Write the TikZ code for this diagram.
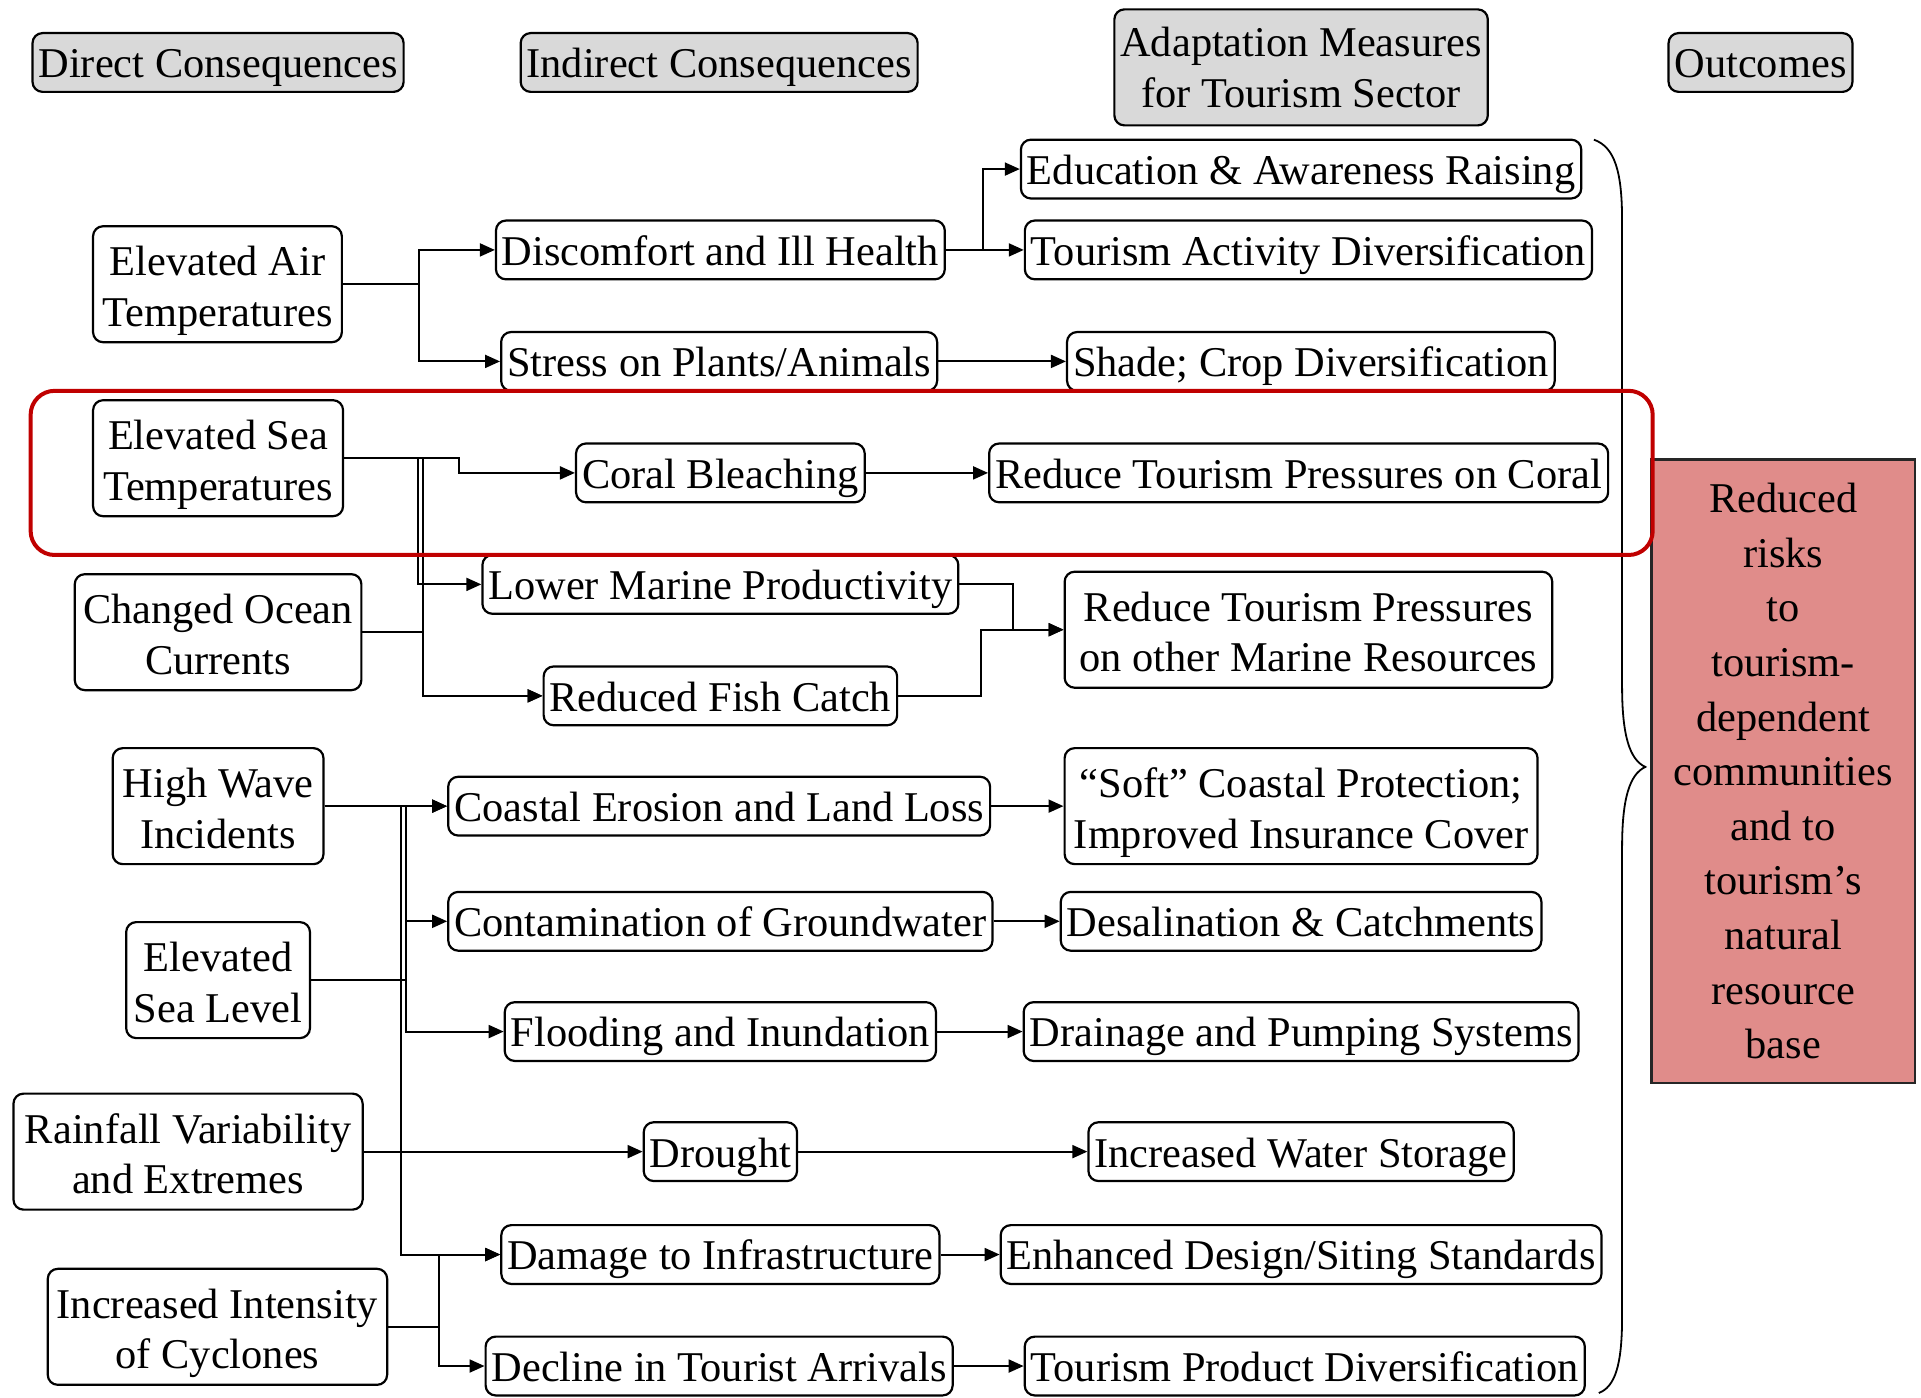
\documentclass[tikz,border=0pt]{standalone}
\usepackage{fontspec}
\setmainfont{Liberation Serif}
\usetikzlibrary{arrows.meta}
\definecolor{hdrgray}{HTML}{D9D9D9}
\definecolor{outc}{HTML}{E08C8A}
\definecolor{hired}{HTML}{C00000}
\begin{document}
\begin{tikzpicture}[x=0.6126pt,y=-0.6126pt,
  box/.style={draw=black, line width=1.1pt, rounded corners=5pt, inner xsep=3pt, inner ysep=0pt,
    text height=22.4pt, text depth=7pt, align=center, font=\fontsize{21.2}{25.3}\selectfont},
  tall/.style={box, text height=50pt, text depth=8pt},
  hdr/.style={box, fill=hdrgray},
  arr/.style={line width=1pt, -{Triangle[length=7.5pt,width=6.5pt]}},
  ln/.style={line width=1pt}]
\useasboundingbox (0,0) rectangle (1568,1141);

% headers
\node[hdr] (h1) at (178,51) {Direct Consequences};
\node[hdr] (h2) at (587,51) {Indirect Consequences};
\node[hdr, text height=49pt, text depth=9pt] (h3) at (1062,55) {Adaptation Measures\\for Tourism Sector};
\node[hdr] (h4) at (1437,51) {Outcomes};

% column 1
\node[tall, minimum width=124.4pt] (air) at (177.5,232) {Elevated Air\\Temperatures};
\node[tall, minimum width=125pt] (sst) at (178,374) {Elevated Sea\\Temperatures};
\node[tall, minimum width=143.3pt] (ocean) at (178,516) {Changed Ocean\\Currents};
\node[tall, minimum width=105.4pt] (wave) at (178,658) {High Wave\\Incidents};
\node[tall, minimum width=91.9pt] (slr) at (178,800) {Elevated\\Sea Level};
\node[tall, minimum width=174.6pt] (rain) at (153.5,940) {Rainfall Variability\\and Extremes};
\node[tall, minimum width=169.7pt] (cyc) at (177.5,1083) {Increased Intensity\\of Cyclones};

% column 2
\node[box] (disc) at (588,204) {Discomfort and Ill Health};
\node[box] (stress) at (587,295) {Stress on Plants/Animals};
\node[box] (coral) at (588,386) {Coral Bleaching};
\node[box] (lmp) at (588,477) {Lower Marine Productivity};
\node[box] (fish) at (588,568) {Reduced Fish Catch};
\node[box] (coast) at (587,658) {Coastal Erosion and Land Loss};
\node[box] (contam) at (588,752) {Contamination of Groundwater};
\node[box] (flood) at (588,842) {Flooding and Inundation};
\node[box] (drought) at (588,940) {Drought};
\node[box] (damage) at (588,1024) {Damage to Infrastructure};
\node[box] (decline) at (587,1115) {Decline in Tourist Arrivals};

% column 3
\node[box] (edu) at (1062,138) {Education \& Awareness Raising};
\node[box] (tad) at (1068,204) {Tourism Activity Diversification};
\node[box] (shade) at (1070,295) {Shade; Crop Diversification};
\node[box] (rcoral) at (1060,386) {Reduce Tourism Pressures on Coral};
\node[tall, minimum width=243.8pt] (rmarine) at (1068,514) {Reduce Tourism Pressures\\on other Marine Resources};
\node[tall, minimum width=236.5pt] (soft) at (1062,658) {“Soft” Coastal Protection;\\Improved Insurance Cover};
\node[box] (desal) at (1062,752) {Desalination \& Catchments};
\node[box] (drain) at (1062,842) {Drainage and Pumping Systems};
\node[box] (water) at (1062,940) {Increased Water Storage};
\node[box] (design) at (1062,1024) {Enhanced Design/Siting Standards};
\node[box] (tpd) at (1065,1115) {Tourism Product Diversification};

% outcome
\node[draw=black!85, line width=1.1pt, fill=outc, minimum width=131.7pt, minimum height=311.8pt,
  inner sep=0pt, align=center, font=\fontsize{21.2}{27.3}\selectfont] (out) at (1455.5,629.5)
  {Reduced\\risks\\to\\tourism-\\dependent\\communities\\and to\\tourism’s\\natural\\resource\\base};

% junction coordinates
\coordinate (jA) at (342,0);
\coordinate (jB) at (802,0);
\coordinate (jC) at (375,0);
\coordinate (jD) at (341,0);
\coordinate (jE) at (345,0);
\coordinate (jF) at (827,0);
\coordinate (jG) at (801,0);
\coordinate (jH) at (331,0);
\coordinate (jI) at (327,0);
\coordinate (jK) at (358,0);

% connectors
\draw[arr] (air.east) -- (air.east -| jA) |- (disc.west);
\draw[arr] (air.east) -- (air.east -| jA) |- (stress.west);
\draw[arr] (disc.east) -- (disc.east -| jB) |- (edu.west);
\draw[arr] (disc.east) -- (tad.west);
\draw[arr] (stress.east) -- (shade.west);
\draw[arr] (sst.east) -- (sst.east -| jC) |- (coral.west);
\draw[arr] (sst.east) -- (sst.east -| jD) |- (lmp.west);
\draw[arr] (sst.east) -- (sst.east -| jE) |- (fish.west);
\draw[arr] (ocean.east) -- (ocean.east -| jE) |- (fish.west);
\draw[arr] (coral.east) -- (rcoral.west);
\draw[arr] (lmp.east) -- (lmp.east -| jF) |- (rmarine.west);
\draw[arr] (fish.east) -- (fish.east -| jG) |- (rmarine.west);

\draw[arr] (wave.east) -- (coast.west);
\draw[arr] (wave.east) -- (wave.east -| jH) |- (contam.west);
\draw[arr] (wave.east) -- (wave.east -| jH) |- (flood.west);
\draw[arr] (wave.east) -- (wave.east -| jI) |- (damage.west);
\draw[arr] (slr.east) -- (slr.east -| jH) |- (coast.west);
\draw[arr] (rain.east) -- (drought.west);
\draw[arr] (cyc.east) -- (cyc.east -| jK) |- (damage.west);
\draw[arr] (cyc.east) -- (cyc.east -| jK) |- (decline.west);
\draw[arr] (coast.east) -- (soft.west);
\draw[arr] (contam.east) -- (desal.west);
\draw[arr] (flood.east) -- (drain.west);
\draw[arr] (drought.east) -- (water.west);
\draw[arr] (damage.east) -- (design.west);
\draw[arr] (decline.east) -- (tpd.west);

% brace
\draw[line width=0.9pt] (1301,114) .. controls (1318,120) and (1324,140) .. (1324,180)
  -- (1324,560) .. controls (1324,600) and (1330,620) .. (1343,626)
  .. controls (1330,632) and (1324,652) .. (1324,692)
  -- (1324,1075) .. controls (1324,1115) and (1318,1132) .. (1305,1137);

% highlight
\draw[hired, line width=2pt, rounded corners=12pt] (25,319) rectangle (1349,453);
\end{tikzpicture}
\end{document}
